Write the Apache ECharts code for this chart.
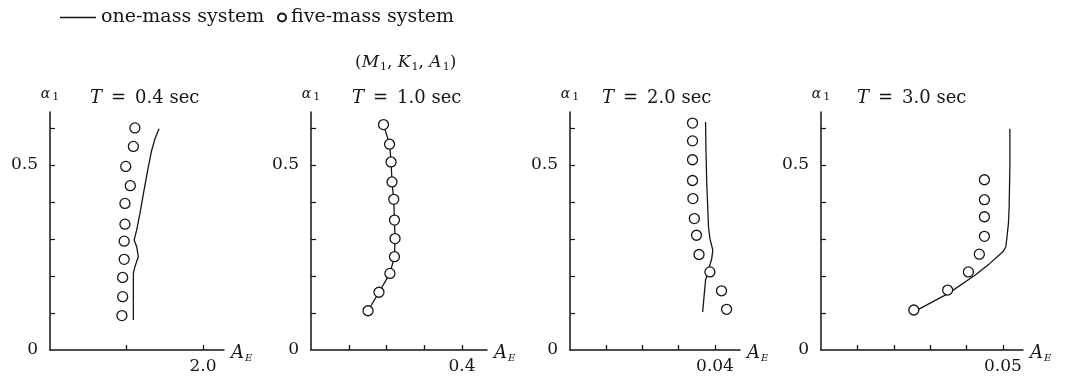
<!DOCTYPE html>
<html>
<head>
<meta charset="utf-8">
<script src="https://cdn.jsdelivr.net/npm/echarts@6/dist/echarts.min.js"></script>
<style>
  html, body { margin: 0; padding: 0; background: #fff; }
  #chart { width: 1065px; height: 380px; }
</style>
</head>
<body>
<div id="chart"></div>
<script>
// Panel titles (natural period of the structure)
const periods = ['0.4', '1.0', '2.0', '3.0'];

// Panel 1, T = 0.4 sec
const p1FiveAlpha = [0.600, 0.550, 0.496, 0.444, 0.396, 0.340, 0.294, 0.245, 0.196, 0.144, 0.093];
const p1FiveAE    = [1.11, 1.09, 0.99, 1.05, 0.98, 0.98, 0.97, 0.97, 0.95, 0.95, 0.94];
const p1OneAlpha  = [0.081, 0.207, 0.225, 0.252, 0.279, 0.297, 0.324, 0.369, 0.431, 0.494, 0.539, 0.571, 0.598];
const p1OneAE     = [1.09, 1.09, 1.11, 1.155, 1.133, 1.10, 1.133, 1.176, 1.229, 1.285, 1.329, 1.373, 1.425];

// Panel 2, T = 1.0 sec
const p2FiveAlpha = [0.609, 0.556, 0.508, 0.454, 0.407, 0.351, 0.301, 0.252, 0.207, 0.156, 0.106];
const p2FiveAE    = [0.192, 0.208, 0.212, 0.2145, 0.219, 0.221, 0.2225, 0.221, 0.209, 0.180, 0.151];
const p2OneAlpha  = [0.609, 0.556, 0.508, 0.454, 0.407, 0.351, 0.301, 0.252, 0.207, 0.156, 0.106];
const p2OneAE     = [0.192, 0.208, 0.212, 0.2145, 0.219, 0.221, 0.2225, 0.221, 0.209, 0.180, 0.151];

// Panel 3, T = 2.0 sec
const p3FiveAlpha = [0.613, 0.565, 0.514, 0.458, 0.409, 0.355, 0.310, 0.258, 0.211, 0.160, 0.110];
const p3FiveAE    = [0.0338, 0.0338, 0.0338, 0.0338, 0.0339, 0.0343, 0.0349, 0.0356, 0.0386, 0.0418, 0.0432];
const p3OneAlpha  = [0.103, 0.189, 0.216, 0.247, 0.270, 0.301, 0.333, 0.386, 0.458, 0.548, 0.616];
const p3OneAE     = [0.0366, 0.0374, 0.0382, 0.0391, 0.0394, 0.0386, 0.0382, 0.0380, 0.0377, 0.0375, 0.0374];

// Panel 4, T = 3.0 sec
const p4FiveAlpha = [0.460, 0.406, 0.360, 0.307, 0.259, 0.211, 0.162, 0.108];
const p4FiveAE    = [0.0449, 0.0449, 0.0449, 0.0449, 0.0435, 0.0405, 0.0348, 0.0255];
const p4OneAlpha  = [0.103, 0.153, 0.202, 0.234, 0.267, 0.279, 0.342, 0.386, 0.503, 0.598];
const p4OneAE     = [0.0255, 0.0350, 0.0423, 0.0464, 0.0501, 0.0508, 0.0515, 0.0517, 0.0519, 0.0519];

// Axis ticks and labels
const xTickValues  = [[1.0, 2.0], [0.1, 0.2, 0.3, 0.4], [0.01, 0.02, 0.03, 0.04], [0.01, 0.02, 0.03, 0.04, 0.05]];
const xLabelValues = [2.0, 0.4, 0.04, 0.05];
const xLabelTexts  = ['2.0', '0.4', '0.04', '0.05'];
const yTickValues  = [0.1, 0.2, 0.3, 0.4, 0.5, 0.6];
const yLabelValues = [0, 0.5];
const yLabelTexts  = ['0', '0.5'];

const panels = [
  { fiveA: p1FiveAlpha, fiveX: p1FiveAE, oneA: p1OneAlpha, oneX: p1OneAE },
  { fiveA: p2FiveAlpha, fiveX: p2FiveAE, oneA: p2OneAlpha, oneX: p2OneAE },
  { fiveA: p3FiveAlpha, fiveX: p3FiveAE, oneA: p3OneAlpha, oneX: p3OneAE },
  { fiveA: p4FiveAlpha, fiveX: p4FiveAE, oneA: p4OneAlpha, oneX: p4OneAE }
];

// Layout of the four small plots
const frames = [
  { left: 50,  width: 174, xMax: 2.275 },
  { left: 311, width: 176, xMax: 0.466 },
  { left: 570, width: 170, xMax: 0.0469 },
  { left: 821, width: 202, xMax: 0.0555 }
];
const plotTop = 112, plotHeight = 238, yMax = 0.643;

const FONT = '"DejaVu Serif", "Liberation Serif", serif';
const INK = '#161616';

const pairs = (xs, ys) => xs.map((x, i) => [x, ys[i]]);

const grids = frames.map(f => ({
  left: f.left, top: plotTop, width: f.width, height: plotHeight,
  containLabel: false, outerBoundsMode: 'none'
}));

const subRich = {
  i: { fontFamily: FONT, fontStyle: 'italic', fontSize: 17, color: INK },
  s: { fontFamily: FONT, fontSize: 11, color: INK, verticalAlign: 'bottom', padding: [10, 0, 0, 1] }
};

const xAxes = frames.map((f, k) => ({
  type: 'value', gridIndex: k, min: 0, max: f.xMax,
  splitLine: { show: false },
  axisLine: { show: true, onZero: false, lineStyle: { color: INK, width: 1.5 } },
  axisTick: { show: true, inside: true, length: 5, customValues: xTickValues[k], lineStyle: { color: INK, width: 1.3 } },
  axisLabel: {
    show: true, customValues: [xLabelValues[k]], margin: 8,
    formatter: () => xLabelTexts[k],
    fontFamily: FONT, fontSize: 17, color: INK
  },
  name: '{i|A}{s|E}', nameLocation: 'end', nameGap: 7,
  nameTextStyle: { rich: {
    i: { fontFamily: FONT, fontStyle: 'italic', fontSize: 18, color: INK },
    s: { fontFamily: FONT, fontStyle: 'italic', fontSize: 10, color: INK, verticalAlign: 'bottom', padding: [10, 0, 0, 1] }
  }, verticalAlign: 'middle', padding: [6, 0, 0, 0] }
}));

const yAxes = frames.map((f, k) => ({
  type: 'value', gridIndex: k, min: 0, max: yMax,
  splitLine: { show: false },
  axisLine: { show: true, onZero: false, lineStyle: { color: INK, width: 1.5 } },
  axisTick: { show: true, inside: true, length: 5, customValues: yTickValues, lineStyle: { color: INK, width: 1.2 } },
  axisLabel: {
    show: true, customValues: yLabelValues, margin: 12,
    formatter: v => yLabelTexts[yLabelValues.indexOf(v)] ?? '',
    fontFamily: FONT, fontSize: 17, color: INK
  },
  name: '{i|α}{s|1}', nameLocation: 'end', nameGap: 9,
  nameTextStyle: { rich: {
    i: { fontFamily: FONT, fontStyle: 'italic', fontSize: 14, color: INK },
    s: { fontFamily: FONT, fontSize: 11, color: INK, verticalAlign: 'bottom', padding: [6, 0, 0, 2] }
  } }
}));

const series = [];
panels.forEach((p, k) => {
  series.push({
    name: 'one-mass system', type: 'line', xAxisIndex: k, yAxisIndex: k,
    data: pairs(p.oneX, p.oneA), symbol: 'none', smooth: false,
    lineStyle: { color: INK, width: 1.3 }, itemStyle: { color: INK }, z: 2,
    silent: true, animation: false
  });
  series.push({
    name: 'five-mass system', type: 'scatter', xAxisIndex: k, yAxisIndex: k,
    data: pairs(p.fiveX, p.fiveA), symbol: 'circle', symbolSize: 10,
    itemStyle: { color: '#fff', borderColor: INK, borderWidth: 1.3, opacity: 1 }, z: 3,
    silent: true, animation: false
  });
});

const titleStarts = [90, 352, 602, 857];
const titles = periods.map((t, k) => ({
  text: '{i|T}\u2002=\u2002' + t + ' sec', left: titleStarts[k], top: 89, padding: 0,
  textStyle: { fontFamily: FONT, fontSize: 18, fontWeight: 'normal', color: INK,
    rich: { i: { fontFamily: FONT, fontStyle: 'italic', fontSize: 18, color: INK } } }
}));
titles.push({
  text: '({i|M}{s|1}, {i|K}{s|1}, {i|A}{s|1})', left: 355, top: 52, padding: 0,
  textStyle: { fontFamily: FONT, fontSize: 17, fontWeight: 'normal', color: INK, rich: subRich }
});

const legendText = { fontFamily: FONT, fontSize: 19, color: INK };
const option = {
  backgroundColor: '#fff',
  animation: false,
  title: titles,
  legend: [
    { data: [{ name: 'one-mass system', icon: 'rect' }], left: 60, top: 8, itemWidth: 36, itemHeight: 1.4,
      itemGap: 0, textStyle: legendText, selectedMode: false, padding: 0 },
    { data: ['five-mass system'], left: 277, top: 8, icon: 'circle', itemWidth: 8, itemHeight: 8,
      textStyle: legendText, selectedMode: false, padding: 0 }
  ],
  grid: grids,
  xAxis: xAxes,
  yAxis: yAxes,
  series: series
};

const chart = echarts.init(document.getElementById('chart'), null, { renderer: 'canvas' });
chart.setOption(option);
</script>
</body>
</html>
